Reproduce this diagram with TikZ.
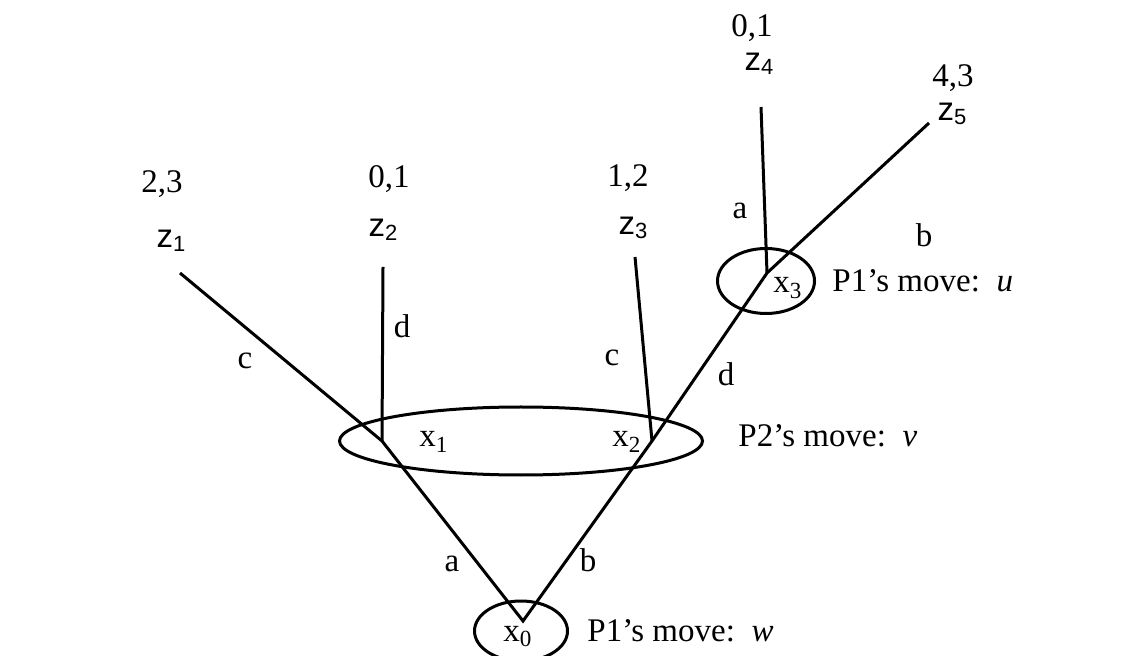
\documentclass[tikz,border=0pt]{standalone}
\usepackage{fontspec}
\setmainfont{Liberation Serif}
\setsansfont{Liberation Sans}
\usetikzlibrary{shapes.geometric}

\newcommand{\zout}[1]{z\raisebox{-0.2ex}{\fontsize{11}{12}\selectfont #1}}

\begin{document}
\begin{tikzpicture}[
    x=0.5pt, y=-0.5pt,
    every node/.style={inner sep=0pt, anchor=base, font=\fontsize{16.5}{20}\selectfont},
    branch/.style={line width=1.5pt},
    infoset/.style={draw, ellipse, line width=1.5pt, inner sep=0pt},
    outcome/.style={font=\fontsize{16.5}{20}\sffamily},
    movelabel/.style={anchor=base west}
]
\useasboundingbox (0,0) rectangle (1143,656);

% decision points
\coordinate (x0) at (523,621);
\coordinate (x1) at (382,441);
\coordinate (x2) at (652,441);
\coordinate (x3) at (767,273);

% ends of the terminal branches
\coordinate (e1) at (180,273);
\coordinate (e2) at (383,267);
\coordinate (e3) at (635,257);
\coordinate (e4) at (761,107);
\coordinate (e5) at (929,123);

% information sets
\node[infoset, minimum width=46.5pt, minimum height=30pt, anchor=center] (I0) at (521,631) {};
\node[infoset, minimum width=181.5pt, minimum height=34pt, anchor=center] (I12) at (521,441) {};
\node[infoset, minimum width=48.5pt, minimum height=32.5pt, anchor=center] (I3) at (766,281) {};

% branches
\draw[branch] (e1) -- (x1) -- (x0) -- (x2) -- (x3) -- (e5);
\draw[branch] (e2) -- (x1);
\draw[branch] (e3) -- (x2);
\draw[branch] (e4) -- (x3);

% payoffs and outcomes
\node (p1) at (162,193) {2,3};
\node[outcome] (z1) at (171,248) {\zout{1}};
\node (p2) at (389,188) {0,1};
\node[outcome] (z2) at (383,237) {\zout{2}};
\node (p3) at (628,187) {1,2};
\node[outcome] (z3) at (633,235) {\zout{3}};
\node (p4) at (752,37) {0,1};
\node[outcome] (z4) at (759,71) {\zout{4}};
\node (p5) at (953,87) {4,3};
\node[outcome] (z5) at (952,121) {\zout{5}};

% actions
\node (ac1) at (245,369) {c};
\node (ad1) at (402,338) {d};
\node (ac2) at (612,366) {c};
\node (ad2) at (726,386) {d};
\node (aa3) at (740,219) {a};
\node (ab3) at (924,247) {b};
\node (aa0) at (452,571) {a};
\node (ab0) at (588,571) {b};

% node names and moves
\node[movelabel] (n0) at (503,641) {x\textsubscript{0}};
\node[movelabel] (n1) at (419,447) {x\textsubscript{1}};
\node[movelabel] (n2) at (612,447) {x\textsubscript{2}};
\node[movelabel] (n3) at (773,293) {x\textsubscript{3}};
\node[movelabel] (m0) at (587,641) {P1’s move:\ \ \textit{w}};
\node[movelabel] (m12) at (738,446) {P2’s move:\ \ \textit{v}};
\node[movelabel] (m3) at (832,292) {P1’s move:\ \ \textit{u}};
\end{tikzpicture}
\end{document}
